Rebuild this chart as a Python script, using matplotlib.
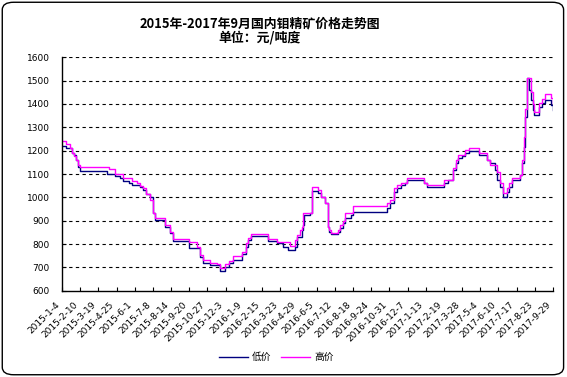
import matplotlib
matplotlib.use("Agg")
import matplotlib.pyplot as plt
import matplotlib.transforms as mtransforms
import pandas as pd
from matplotlib.patches import FancyBboxPatch

plt.rcParams["font.family"] = ["Noto Sans CJK SC", "DejaVu Sans"]

# change points (yuan / ton-degree)
dates = [
    "2015-01-04", "2015-01-12", "2015-01-20", "2015-01-24", "2015-01-28", "2015-02-01",
    "2015-02-06", "2015-02-10", "2015-04-06", "2015-04-10", "2015-04-22", "2015-05-02",
    "2015-05-08", "2015-05-20", "2015-05-26", "2015-06-06", "2015-06-12", "2015-06-18",
    "2015-06-24", "2015-07-02", "2015-07-08", "2015-07-12", "2015-08-02", "2015-08-12",
    "2015-08-18", "2015-09-15", "2015-09-19", "2015-10-06", "2015-10-12", "2015-10-18",
    "2015-11-01", "2015-11-15", "2015-11-21", "2015-12-02", "2015-12-10", "2015-12-18",
    "2016-01-05", "2016-01-13", "2016-01-17", "2016-01-24", "2016-02-27", "2016-03-16",
    "2016-03-29", "2016-04-08", "2016-04-12", "2016-04-22", "2016-04-26", "2016-05-02",
    "2016-05-06", "2016-05-08", "2016-05-10", "2016-05-23", "2016-05-27", "2016-06-08",
    "2016-06-14", "2016-06-22", "2016-06-28", "2016-06-30", "2016-07-04", "2016-07-17",
    "2016-07-19", "2016-07-23", "2016-07-29", "2016-08-02", "2016-08-14", "2016-08-18",
    "2016-10-24", "2016-10-26", "2016-11-01", "2016-11-09", "2016-11-16", "2016-11-24",
    "2016-12-02", "2016-12-06", "2017-01-10", "2017-01-16", "2017-02-17", "2017-02-19",
    "2017-02-27", "2017-03-10", "2017-03-16", "2017-03-20", "2017-03-28", "2017-04-03",
    "2017-04-11", "2017-05-01", "2017-05-18", "2017-05-24", "2017-06-03", "2017-06-07",
    "2017-06-13", "2017-06-19", "2017-06-25", "2017-06-27", "2017-07-02", "2017-07-08",
    "2017-07-20", "2017-07-24", "2017-07-28", "2017-08-01", "2017-08-03", "2017-08-07",
    "2017-08-11", "2017-08-15", "2017-08-19", "2017-08-21", "2017-09-01", "2017-09-07",
    "2017-09-13", "2017-09-23", "2017-09-25", "2017-09-29",
]
low_price = [
    1220, 1210, 1210, 1190, 1180, 1160, 1130, 1111, 1100, 1100, 1091, 1081,
    1071, 1063, 1053, 1053, 1043, 1030, 1015, 1000, 933, 903, 874, 848,
    813, 813, 784, 784, 745, 720, 710, 710, 685, 703, 717, 731,
    757, 788, 817, 834, 813, 803, 787, 773, 774, 787, 831, 831,
    860, 881, 924, 931, 1028, 1017, 1003, 974, 874, 853, 841, 841,
    853, 867, 888, 910, 924, 938, 938, 953, 974, 1024, 1039, 1053,
    1060, 1074, 1060, 1046, 1046, 1060, 1074, 1117, 1146, 1167, 1177, 1189,
    1198, 1181, 1160, 1146, 1117, 1074, 1046, 1003, 1003, 1025, 1046, 1074,
    1074, 1096, 1146, 1217, 1346, 1510, 1460, 1417, 1374, 1353, 1389, 1403,
    1417, 1417, 1396, 1374,
]
high_price = [
    1240, 1230, 1210, 1190, 1175, 1160, 1140, 1128, 1128, 1120, 1100, 1100,
    1081, 1081, 1071, 1060, 1050, 1040, 1014, 990, 933, 910, 881, 853,
    821, 821, 807, 787, 753, 730, 720, 713, 696, 713, 728, 750,
    767, 803, 824, 841, 821, 807, 807, 807, 791, 817, 838, 860,
    874, 931, 931, 931, 1043, 1031, 1003, 974, 874, 860, 848, 848,
    860, 881, 900, 931, 931, 963, 963, 974, 988, 1039, 1053, 1063,
    1063, 1081, 1060, 1053, 1053, 1074, 1074, 1124, 1160, 1181, 1181, 1203,
    1210, 1189, 1160, 1138, 1138, 1110, 1060, 1017, 1017, 1040, 1060, 1081,
    1081, 1096, 1160, 1260, 1380, 1510, 1510, 1450, 1400, 1367, 1403, 1420,
    1441, 1441, 1427, 1403,
]
y_ticks = [600, 700, 800, 900, 1000, 1100, 1200, 1300, 1400, 1500, 1600]
start_date = "2015-01-04"
end_date = "2017-09-29"
label_step_days = 37

x = pd.to_datetime(dates)
tick_dates = pd.date_range(start_date, end_date, freq=f"{label_step_days}D")
tick_labels = [f"{d.year}-{d.month}-{d.day}" for d in tick_dates]

fig = plt.figure(figsize=(5.67, 3.77), dpi=100)
fig.patches.append(
    FancyBboxPatch(
        (0.004, 0.006), 0.99, 0.988,
        boxstyle="round,pad=0,rounding_size=0.02",
        transform=fig.transFigure, facecolor="white", edgecolor="black",
        linewidth=1.0, zorder=-1,
    )
)

ax = fig.add_axes([0.1093, 0.2289, 0.866, 0.6191])
ax.set_facecolor("none")
ax.plot(x, low_price, drawstyle="steps-post", color="#000080", linewidth=1.0, label="低价")
ax.plot(x, high_price, drawstyle="steps-post", color="#FF00FF", linewidth=1.0, label="高价")

ax.set_xlim(pd.Timestamp(start_date), pd.Timestamp(end_date))
ax.set_ylim(600, 1600)
ax.set_yticks(y_ticks)
ax.set_yticklabels([str(v) for v in y_ticks], fontsize=6.5, family="DejaVu Sans")
ax.set_xticks(tick_dates)
ax.set_xticklabels(tick_labels, rotation=45, ha="right", rotation_mode="anchor",
                   fontsize=6.5, family="DejaVu Sans")
ax.tick_params(axis="both", direction="in", length=3, width=0.8)
ax.tick_params(axis="y", pad=9)
ax.tick_params(axis="x", pad=7)

shift = mtransforms.ScaledTranslation(-7 / 100, 0, fig.dpi_scale_trans)
for label in ax.get_xticklabels():
    label.set_transform(label.get_transform() + shift)

for v in y_ticks[1:]:
    ax.axhline(v, color="black", linewidth=0.8, linestyle=(0, (3, 3)), zorder=0)

for side in ("top", "right"):
    ax.spines[side].set_visible(False)
for side in ("left", "bottom"):
    ax.spines[side].set_linewidth(1.0)

fig.text(0.458, 0.938, "2015年-2017年9月国内钼精矿价格走势图", ha="center", va="center",
         fontsize=9.3, fontweight="bold")
fig.text(0.458, 0.9, "单位：元/吨度", ha="center", va="center",
         fontsize=9.3, fontweight="bold")

fig.legend(loc="center", bbox_to_anchor=(0.487, 0.053), ncol=2, frameon=False,
           fontsize=7, handlelength=3, columnspacing=1.0, handletextpad=0.4)

fig.savefig("out.png", dpi=100)
